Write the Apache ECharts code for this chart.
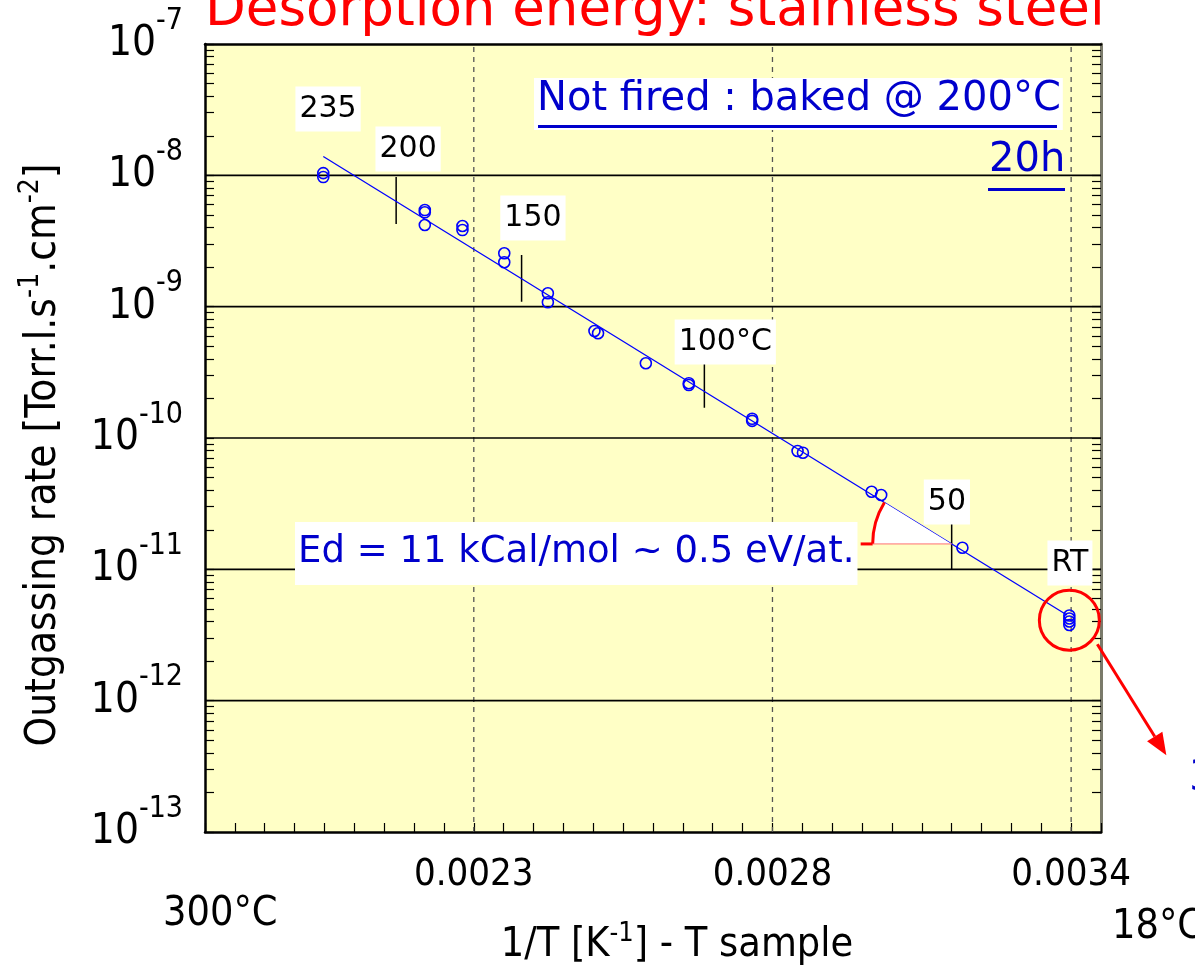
<!DOCTYPE html>
<html>
<head>
<meta charset="utf-8">
<title>Desorption energy: stainless steel</title>
<script src="https://cdn.jsdelivr.net/npm/echarts@6.0.0/dist/echarts.min.js"></script>
<style>
  html, body { margin: 0; padding: 0; background: #fff; }
  #chart { width: 1195px; height: 966px; }
</style>
</head>
<body>
<div id="chart"></div>
<script>
// measured points : 1/T [K-1] and outgassing rate [Torr.l.s-1.cm-2]
var invT = [0.002048, 0.002048, 0.002218, 0.002218, 0.002218, 0.002281, 0.002281,
  0.002351, 0.002351, 0.002424, 0.002424, 0.002502, 0.002508, 0.002588,
  0.00266, 0.00266, 0.002766, 0.002766, 0.002842, 0.002851, 0.002966, 0.002982,
  0.003118, 0.003297, 0.003297, 0.003297, 0.003297];
var rate = [1.04e-8, 9.7e-9, 5.44e-9, 5.23e-9, 4.19e-9, 4.11e-9, 3.83e-9,
  2.55e-9, 2.18e-9, 1.265e-9, 1.08e-9, 6.53e-10, 6.27e-10, 3.71e-10,
  2.61e-10, 2.53e-10, 1.40e-10, 1.35e-10, 7.96e-11, 7.73e-11, 3.90e-11, 3.68e-11,
  1.46e-11, 4.45e-12, 4.22e-12, 4.01e-12, 3.77e-12];

// fit line (end points)
var fitInvT = [0.002048, 0.003293];
var fitRate = [1.39e-8, 4.49e-12];

// short temperature marks across the fit
var markInvT = [0.00217, 0.00238, 0.002686, 0.0031];
var markHigh = [9.71e-9, 2.47e-9, 3.88e-10, 2.26e-11];
var markLow = [4.26e-9, 1.09e-9, 1.70e-10, 1.0e-11];

// temperature labels (boxed)
var tempLabels = ['235', '200', '150', '100°C', '50', 'RT'];
var tempLabelInvT = [0.002056, 0.00219, 0.002399, 0.002721, 0.003092, 0.003298];
var tempLabelRate = [3.20e-8, 1.587e-8, 4.73e-9, 5.38e-10, 3.26e-11, 1.117e-11];

// x tick marks; the last one is printed 0.0034 on the original
var xTickValues = [0.0023, 0.0028, 0.0033];
var xTickLabels = ['0.0023', '0.0028', '0.0034'];
var yDecades = [-13, -12, -11, -10, -9, -8, -7];

var condensed = '"DejaVu Sans Condensed", "Liberation Sans Narrow", sans-serif';
var blue = '#0000cc';
var xMin = 0.00185, xMax = 0.00335;

var xMinor = [];
for (var i = 37; i <= 67; i++) xMinor.push(i * 0.00005);
var yMinor = [];
yDecades.forEach(function (e) {
  for (var m = 1; m <= 9; m++) {
    if (e === -7 && m > 1) break;
    yMinor.push(m * Math.pow(10, e));
  }
});
var yMajor = yDecades.map(function (e) { return Math.pow(10, e); });

var chart = echarts.init(document.getElementById('chart'));

function fitAt(x) {
  var t = (x - fitInvT[0]) / (fitInvT[1] - fitInvT[0]);
  var l0 = Math.log10(fitRate[0]), l1 = Math.log10(fitRate[1]);
  return Math.pow(10, l0 + t * (l1 - l0));
}

function segment(data, style, z) {
  return { type: 'line', data: data, symbol: 'none', silent: true, lineStyle: style, z: z };
}

var refLines = xTickValues.map(function (v) {
  return segment([[v, 1e-13], [v, 1e-7]], { color: '#555', width: 1.3, type: [5, 5] }, 1);
}).concat(yMajor.slice(1, 6).map(function (v) {
  return segment([[xMin, v], [xMax, v]], { color: '#000', width: 1.6 }, 1);
}));

var markSeries = markInvT.map(function (x, i) {
  return segment([[x, markHigh[i]], [x, markLow[i]]], { color: '#000', width: 1.5 }, 3);
});

chart.setOption({
  animation: false,
  backgroundColor: '#fff',
  grid: {
    left: 205, top: 44, width: 896, height: 788,
    show: true, backgroundColor: '#ffffc6', borderWidth: 0,
    containLabel: false, outerBoundsMode: 'none'
  },
  xAxis: [{
    type: 'value', min: xMin, max: xMax, position: 'bottom',
    axisLine: { show: true, lineStyle: { color: '#000', width: 2.5 } },
    axisTick: { show: true, inside: true, length: 9, customValues: xMinor, lineStyle: { color: '#000', width: 1.2 } },
    axisLabel: {
      customValues: xTickValues, margin: 24,
      fontFamily: condensed, fontSize: 38, color: '#000',
      formatter: function (v) {
        var k = 0;
        xTickValues.forEach(function (t, j) { if (Math.abs(t - v) < 1e-7) k = j; });
        return xTickLabels[k];
      }
    },
    splitLine: { show: false },
    name: '{n|1/T [K}{s|-1}{n|] - T sample}',
    nameLocation: 'middle', nameGap: 88,
    nameTextStyle: {
      padding: [0, 0, 0, 48],
      rich: {
        n: { fontFamily: condensed, fontSize: 41, color: '#000' },
        s: { fontFamily: condensed, fontSize: 27, color: '#000', padding: [0, 0, 24, 0] }
      }
    }
  }, {
    type: 'value', min: xMin, max: xMax, position: 'top',
    axisLine: { show: true, lineStyle: { color: '#000', width: 2.5 } },
    axisTick: { show: false }, axisLabel: { show: false }, splitLine: { show: false }
  }],
  yAxis: [{
    type: 'log', logBase: 10, min: 1e-13, max: 1e-7, position: 'left',
    axisLine: { show: true, lineStyle: { color: '#000', width: 2.5 } },
    axisTick: { show: true, inside: true, length: 9, customValues: yMinor, lineStyle: { color: '#000', width: 1.2 } },
    axisLabel: {
      customValues: yMajor, margin: 22,
      formatter: function (v) {
        return '{b|10}{s|' + Math.round(Math.log10(v)) + '}';
      },
      rich: {
        b: { fontFamily: condensed, fontSize: 42, color: '#000' },
        s: { fontFamily: condensed, fontSize: 30, color: '#000', padding: [0, 0, 46, 0] }
      }
    },
    splitLine: { show: false },
    name: '{n|Outgassing rate [Torr.l.s}{s|-1}{n|.cm}{s|-2}{n|]}',
    nameLocation: 'middle', nameGap: 134, nameRotate: 90,
    nameTextStyle: {
      padding: [0, 34, 0, 0],
      rich: {
        n: { fontFamily: condensed, fontSize: 42, color: '#000' },
        s: { fontFamily: condensed, fontSize: 28, color: '#000', padding: [0, 0, 26, 0] }
      }
    }
  }, {
    type: 'log', logBase: 10, min: 1e-13, max: 1e-7, position: 'right',
    axisLine: { show: true, lineStyle: { color: '#7a7a6a', width: 3 } },
    axisTick: { show: true, inside: true, length: 9, customValues: yMinor, lineStyle: { color: '#000', width: 1.2 } },
    axisLabel: { show: false }, splitLine: { show: false }
  }],
  series: [{
    name: 'fit',
    type: 'line',
    data: [[fitInvT[0], fitRate[0]], [fitInvT[1], fitRate[1]]],
    symbol: 'none',
    lineStyle: { color: '#0000ff', width: 1.3 },
    z: 4
  }, {
    name: 'measured',
    type: 'scatter',
    data: invT.map(function (x, i) { return [x, rate[i]]; }),
    symbol: 'circle', symbolSize: 11,
    itemStyle: { color: 'rgba(0,0,0,0)', borderColor: '#0000ff', borderWidth: 1.6, opacity: 1 },
    z: 5
  }, {
    name: 'labels',
    type: 'scatter',
    data: tempLabels.map(function (n, i) { return { name: n, value: [tempLabelInvT[i], tempLabelRate[i]] }; }),
    symbolSize: 0,
    silent: true,
    itemStyle: { opacity: 1 },
    label: {
      show: true, position: 'inside', formatter: '{b}',
      fontFamily: '"DejaVu Sans", sans-serif', fontSize: 30, color: '#000',
      backgroundColor: '#fff', padding: [9, 4, 6, 4]
    },
    z: 6
  }].concat(refLines, markSeries)
});

// annotations placed from data coordinates
var p1 = chart.convertToPixel({ xAxisIndex: 0, yAxisIndex: 0 }, [fitInvT[0], fitRate[0]]);
var p2 = chart.convertToPixel({ xAxisIndex: 0, yAxisIndex: 0 }, [fitInvT[1], fitRate[1]]);
var corner = chart.convertToPixel({ xAxisIndex: 0, yAxisIndex: 0 }, [markInvT[3], fitAt(markInvT[3])]);
var rt = chart.convertToPixel({ xAxisIndex: 0, yAxisIndex: 0 }, [invT[invT.length - 1], 4.1e-12]);
var ang = Math.atan2(p2[1] - p1[1], p2[0] - p1[0]);
var rArc = 79;
var tip = [rt[0] + 97, rt[1] + 135];
var from = [rt[0] + 28, rt[1] + 24];
var dx = tip[0] - from[0], dy = tip[1] - from[1], dl = Math.sqrt(dx * dx + dy * dy);
var ux = dx / dl, uy = dy / dl;
var hb = [tip[0] - ux * 22, tip[1] - uy * 22];

chart.setOption({
  graphic: [
    {
      type: 'text', left: 205, top: -15, z: 10,
      style: { text: 'Desorption energy: stainless steel', fill: '#ff0000', font: '53px "DejaVu Sans", sans-serif' }
    },
    {
      type: 'sector', z: 7, silent: true,
      shape: { cx: corner[0], cy: corner[1], r0: 0, r: rArc, startAngle: Math.PI, endAngle: Math.PI + ang, clockwise: true },
      style: { fill: '#fff' }
    },
    {
      type: 'arc', z: 8, silent: true,
      shape: { cx: corner[0], cy: corner[1], r: rArc, startAngle: Math.PI, endAngle: Math.PI + ang, clockwise: true },
      style: { stroke: '#ff0000', lineWidth: 3, fill: null }
    },
    {
      type: 'line', z: 8, silent: true,
      shape: { x1: corner[0] - rArc - 12, y1: corner[1], x2: corner[0] - rArc, y2: corner[1] },
      style: { stroke: '#ff0000', lineWidth: 3 }
    },
    {
      type: 'line', z: 8, silent: true,
      shape: { x1: corner[0] - rArc, y1: corner[1], x2: corner[0], y2: corner[1] },
      style: { stroke: '#ff7070', lineWidth: 1 }
    },
    {
      type: 'circle', z: 8, silent: true,
      shape: { cx: rt[0], cy: rt[1], r: 30 },
      style: { stroke: '#ff0000', lineWidth: 3, fill: null }
    },
    {
      type: 'line', z: 8, silent: true,
      shape: { x1: from[0], y1: from[1], x2: hb[0], y2: hb[1] },
      style: { stroke: '#ff0000', lineWidth: 3 }
    },
    {
      type: 'polygon', z: 8, silent: true,
      shape: { points: [tip, [hb[0] - uy * 9, hb[1] + ux * 9], [hb[0] + uy * 9, hb[1] - ux * 9]] },
      style: { fill: '#ff0000' }
    },
    {
      type: 'text', x: 534, y: 78, z: 9,
      style: {
        text: 'Not fired : baked @ 200°C', fill: blue, font: '40px "DejaVu Sans", sans-serif',
        backgroundColor: '#fff', padding: [2, 2, 10, 3]
      }
    },
    {
      type: 'line', z: 10, silent: true,
      shape: { x1: 538, y1: 126.5, x2: 1057, y2: 126.5 },
      style: { stroke: blue, lineWidth: 3 }
    },
    {
      type: 'text', x: 989, y: 141, z: 9,
      style: { text: '20h', fill: blue, font: '40px "DejaVu Sans", sans-serif' }
    },
    {
      type: 'line', z: 10, silent: true,
      shape: { x1: 988, y1: 189.5, x2: 1065, y2: 189.5 },
      style: { stroke: blue, lineWidth: 3 }
    },
    {
      type: 'text', x: 295, y: 522, z: 9,
      style: {
        text: 'Ed = 11 kCal/mol ~ 0.5 eV/at.', fill: blue, font: '37px "DejaVu Sans", sans-serif',
        backgroundColor: '#fff', padding: [12, 3, 14, 3]
      }
    },
    {
      type: 'text', x: 1189, y: 758, z: 9,
      style: { text: '3', fill: blue, font: '42px "DejaVu Sans", sans-serif' }
    },
    {
      type: 'text', x: 163, y: 894, z: 9,
      style: { text: '300°C', fill: '#000', font: '41px ' + condensed }
    },
    {
      type: 'text', x: 1112, y: 907, z: 9,
      style: { text: '18°C', fill: '#000', font: '41px ' + condensed }
    }
  ]
});
</script>
</body>
</html>
